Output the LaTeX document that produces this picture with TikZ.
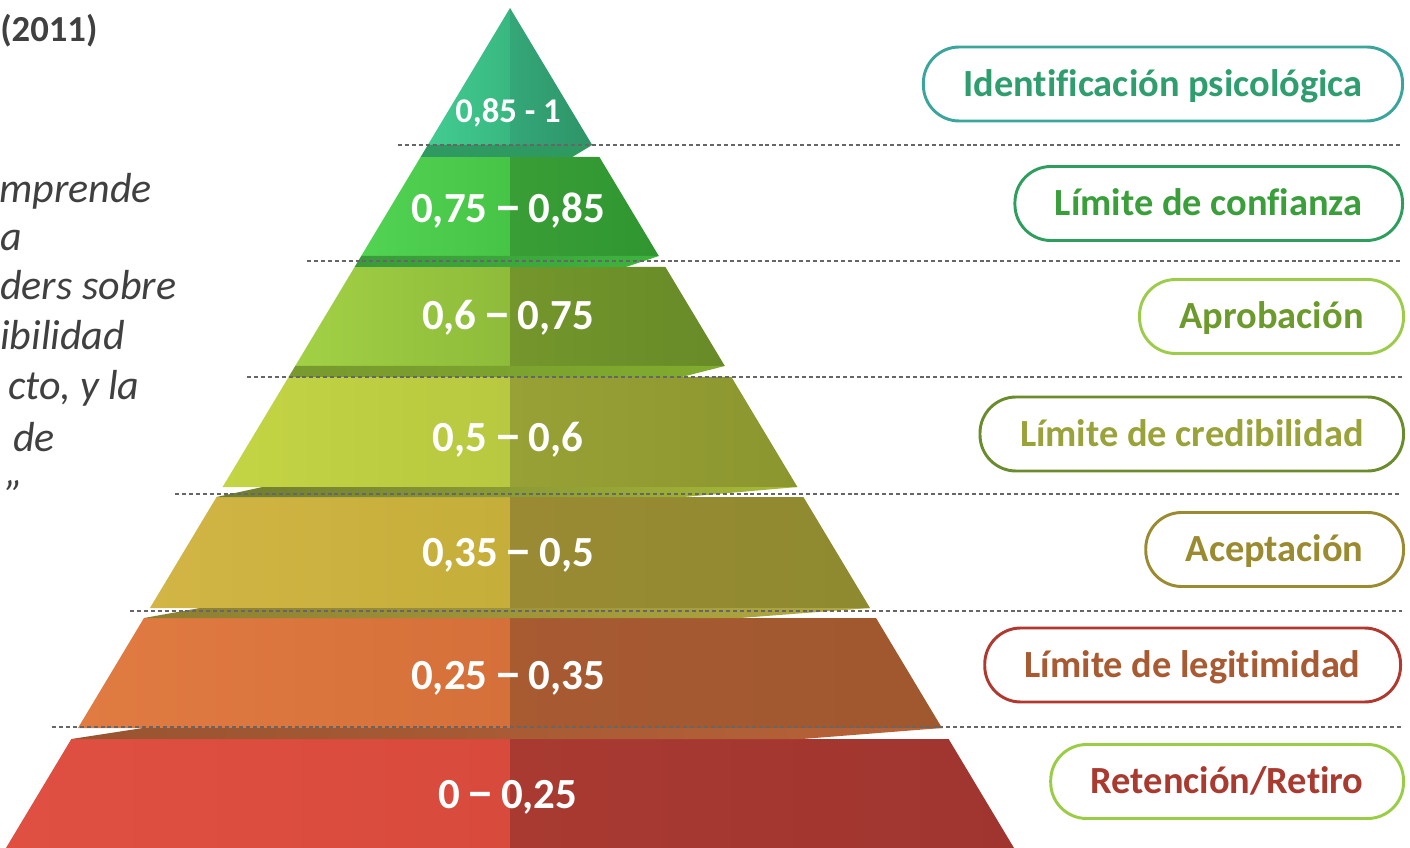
\documentclass[tikz,border=0pt]{standalone}
\usepackage{fontspec}
\usepackage{graphicx}
\setmainfont{Carlito}[Ligatures=CommonOff]
\definecolor{txtgray}{HTML}{404040}
\definecolor{guidegray}{HTML}{666666}
\definecolor{identline}{HTML}{3AA59A}\definecolor{identtext}{HTML}{2E9E6E}
\definecolor{confline}{HTML}{2E9E5E}\definecolor{conftext}{HTML}{3A9E3A}
\definecolor{aprobline}{HTML}{9DCB4A}\definecolor{aprobtext}{HTML}{6C9A2C}
\definecolor{credline}{HTML}{6A8C2C}\definecolor{credtext}{HTML}{9AA23A}
\definecolor{acepline}{HTML}{9A8A30}\definecolor{aceptext}{HTML}{9A8A30}
\definecolor{legitline}{HTML}{B0382E}\definecolor{legittext}{HTML}{A85A32}
\definecolor{retline}{HTML}{9ACD45}\definecolor{rettext}{HTML}{A83A30}
\newcommand\rngdash{\makebox[0.5em]{\scalebox{1.3}[1.15]{–}}}
\begin{document}
\begin{tikzpicture}[x=0.75pt,y=-0.75pt,
  rng/.style={text=white,inner sep=0pt,text depth=0pt,text height=20.3pt,font=\bfseries\fontsize{32.2pt}{38pt}\selectfont},
  tag/.style={draw=#1line,text=#1text,line width=2.2pt,rounded corners=27pt,minimum height=55.5pt,inner xsep=30pt,inner ysep=0pt,anchor=east,fill=white,text height=18.5pt,text depth=0pt,font=\bfseries\fontsize{28.8pt}{34pt}\selectfont},
  quote/.style={anchor=base west,inner sep=0pt,text=txtgray,font=\itshape\fontsize{31.5pt}{38pt}\selectfont},
  guide/.style={draw=guidegray,line width=0.8pt,dash pattern=on 3pt off 2.2pt}]
\path[use as bounding box] (0,0) rectangle (1410,848);
\clip (0,0) rectangle (1410,848);
\fill[white] (0,0) rectangle (1410,848);

\foreach \t/\b/\ca/\cb/\cc/\cd in {8/145/42CC92/38B880/34A778/2E9468,
    157/256/52D352/46C446/3A9E36/2F9630,
    267/366/A2D045/8EBB3A/74962C/688A28,
    377/487/C3D444/B8C840/97A135/8C962F,
    497/608/D2B545/C5AE3A/9A8A33/8E8A30,
    618/728/E07B42/D6703A/A85A31/A0582F,
    739/848/E05042/D84A3C/A83A31/A03530}{
  \definecolor{la}{HTML}{\ca}\definecolor{lb}{HTML}{\cb}
  \definecolor{ra}{HTML}{\cc}\definecolor{rb}{HTML}{\cd}
  \shade[left color=la,right color=lb] ({510-0.6*(\t-8)},\t) -- (510,\t) -- (510,\b) -- ({510-0.6*(\b-8)},\b) -- cycle;
  \shade[left color=ra,right color=rb] (510,\t) -- ({510+0.6*(\t-8)},\t) -- ({510+0.6*(\b-8)},\b) -- (510,\b) -- cycle;
}
\foreach \b/\t/\dl/\dr/\ca/\cb in {145/157/0/20/2E9A62/2E9A62,
    256/267/0/33/3A9A3A/3CB53C,
    366/377/0/43/78992E/80AC2E,
    487/497/40/114/6E7C30/A8BA38,
    608/618/50/130/8C7E30/B0AA40,
    728/739/65/140/985430/B86238}{
  \definecolor{ba}{HTML}{\ca}\definecolor{bb}{HTML}{\cb}
  \shade[left color=ba,right color=bb] ({510-0.6*(\t-8)},\t) -- ({510-0.6*(\b-8)+\dl},\b) -- ({510+0.6*(\b-8)},\b) -- ({510+0.6*(\b-8)-\dr},\t) -- cycle;
}

\foreach \x/\y in {398/145,307/261,247/377,175/494,130/611,52/727}
  \draw[guide] (\x,\y) -- (1402,\y);

\node[rng,font=\bfseries\fontsize{26pt}{30pt}\selectfont,text height=16.4pt] (lvl1) at (508,112) {0,85 - 1};
\node[rng] (lvl2) at (508,209) {0,75 \rngdash{} 0,85};
\node[rng] (lvl3) at (508,316) {0,6 \rngdash{} 0,75};
\node[rng] (lvl4) at (508,438) {0,5 \rngdash{} 0,6};
\node[rng] (lvl5) at (508,553) {0,35 \rngdash{} 0,5};
\node[rng] (lvl6) at (508,676) {0,25 \rngdash{} 0,35};
\node[rng] (lvl7) at (508,795) {0 \rngdash{} 0,25};

\node[tag=ident] (ident) at (1404,84) {Identificación psicológica};
\node[tag=conf] (conf) at (1404,203.5) {Límite de confianza};
\node[tag=aprob] (aprob) at (1405,316.5) {Aprobación};
\node[tag=cred] (cred) at (1405,434) {Límite de credibilidad};
\node[tag=acep] (acep) at (1405,549.5) {Aceptación};
\node[tag=legit] (legit) at (1402,665) {Límite de legitimidad};
\node[tag=ret] (ret) at (1405,781.5) {Retención/Retiro};

\node[anchor=west,inner sep=0pt,text=txtgray,text height=17.4pt,text depth=0pt,font=\bfseries\fontsize{27.5pt}{32pt}\selectfont] (year) at (0,30) {(2011)};
\node[quote] (q1) at (-1,203) {mprende};
\node[quote] (q2) at (0,251) {a};
\node[quote] (q3) at (0,300) {ders sobre};
\node[quote] (q4) at (0,350) {ibilidad};
\node[quote] (q5) at (8,400) {cto, y la};
\node[quote] (q6) at (13,451) {de};
\node[quote] (q7) at (5,509) {”};
\end{tikzpicture}
\end{document}
